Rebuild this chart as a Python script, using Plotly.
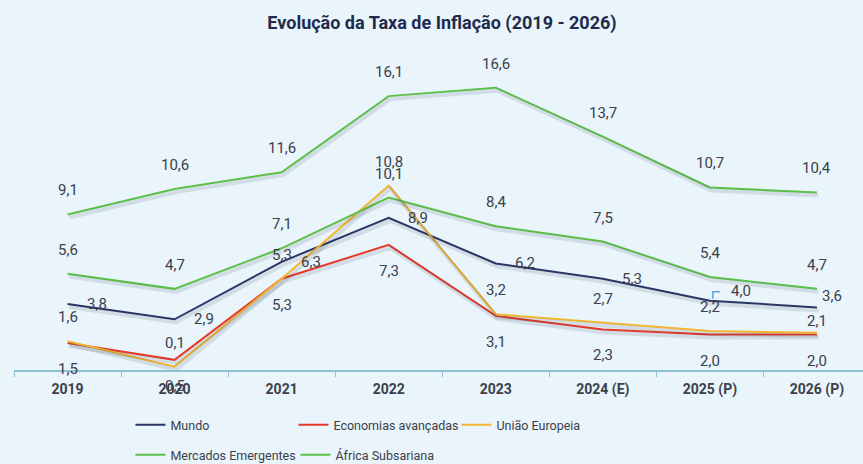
import plotly.graph_objects as go

categories = ["2019", "2020", "2021", "2022", "2023", "2024 (E)", "2025 (P)", "2026 (P)"]
mundo = [3.8, 2.9, 6.3, 8.9, 6.2, 5.3, 4.0, 3.6]
economias_avancadas = [1.5, 0.5, 5.3, 7.3, 3.1, 2.3, 2.0, 2.0]
uniao_europeia = [1.6, 0.1, 5.3, 10.8, 3.2, 2.7, 2.2, 2.1]
mercados_emergentes = [5.6, 4.7, 7.1, 10.1, 8.4, 7.5, 5.4, 4.7]
africa_subsariana = [9.1, 10.6, 11.6, 16.1, 16.6, 13.7, 10.7, 10.4]

BG = "#e9f4fb"
NAVY = "#2b3566"
RED = "#e53a2a"
YELLOW = "#f2b632"
GREEN = "#5cbf4a"
TXT = "#3b404b"
AXIS = "#8cc2d2"

W, H = 863, 464
ML, MR, MT, MB = 13.5, 0, 64, 94
YR = [-0.1, 18.0]
XR = [-0.5, 7.43]
plot_w = W - ML - MR
plot_h = H - MT - MB
px_per_y = plot_h / (YR[1] - YR[0])
px_per_x = plot_w / (XR[1] - XR[0])

series = [
    ("Mundo", mundo, NAVY, "legend"),
    ("Economias avançadas", economias_avancadas, RED, "legend"),
    ("União Europeia", uniao_europeia, YELLOW, "legend"),
    ("Mercados Emergentes", mercados_emergentes, GREEN, "legend2"),
    ("África Subsariana", africa_subsariana, GREEN, "legend2"),
]
idx = list(range(len(categories)))

fig = go.Figure()

# soft drop shadows (same data on a slightly offset overlay axis)
sx, sy = 1.5, 3.0
for name, vals, color, lg in series:
    fig.add_trace(go.Scatter(
        x=idx, y=vals, mode="lines",
        line=dict(color="rgba(40,50,70,0.12)", width=4),
        xaxis="x2", yaxis="y2", showlegend=False, hoverinfo="skip",
    ))

for name, vals, color, lg in series:
    fig.add_trace(go.Scatter(
        x=categories, y=vals, mode="lines", name=name,
        line=dict(color=color, width=2), legend=lg,
    ))

LABEL_FONT = dict(family="Roboto", size=15, color=TXT)
fmt = lambda v: f"{v:.1f}".replace(".", ",")
annotations = []
def add_labels(vals, xshift=0, yshift=0, xanchor="center", special=None):
    special = special or {}
    for i, v in zip(idx, vals):
        xs, ys = special.get(i, (xshift, yshift))
        annotations.append(dict(
            x=i, y=v, xref="x", yref="y", text=fmt(v), showarrow=False,
            xshift=xs, yshift=ys, xanchor=xanchor, yanchor="middle",
            font=LABEL_FONT,
        ))

add_labels(africa_subsariana, yshift=24)
add_labels(mercados_emergentes, yshift=24)
add_labels(uniao_europeia, yshift=24, special={7: (0, 12)})
add_labels(economias_avancadas, yshift=-26)
add_labels(mundo, xshift=17, xanchor="left", special={6: (19, 10), 7: (3, 11)})
shapes = [dict(
    type="path", xref="x", yref="y", xsizemode="pixel", ysizemode="pixel",
    xanchor=6, yanchor=mundo[6], path="M3,2 L3,9 L10,9",
    line=dict(color="#5aa8d8", width=1.5),
)]

fig.update_layout(
    width=W, height=H,
    margin=dict(l=ML, r=MR, t=MT, b=MB, pad=0, autoexpand=False),
    paper_bgcolor=BG, plot_bgcolor=BG,
    title=dict(
        text="<b>Evolução da Taxa de Inflação (2019 - 2026)</b>",
        font=dict(family="Roboto", size=18, color="#1f2b4d"),
        x=442 / W, xref="container", xanchor="center",
        y=1 - 23 / H, yref="container", yanchor="middle",
    ),
    xaxis=dict(
        type="category", range=XR, showgrid=False, zeroline=False,
        showline=True, linecolor=AXIS, linewidth=1.5,
        ticks="outside", tickson="boundaries", ticklen=5, tickcolor=AXIS,
        tickfont=dict(family="Roboto", size=14, color=TXT, weight="bold"),
        ticklabelstandoff=5, fixedrange=True,
    ),
    yaxis=dict(range=YR, visible=False, showgrid=False, zeroline=False),
    xaxis2=dict(range=[XR[0] - sx / px_per_x, XR[1] - sx / px_per_x],
                overlaying="x", visible=False, showgrid=False),
    yaxis2=dict(range=[YR[0] + sy / px_per_y, YR[1] + sy / px_per_y],
                overlaying="y", visible=False, showgrid=False),
    annotations=annotations,
    shapes=shapes,
    legend=dict(
        orientation="h", x=(130 - ML) / plot_w, xanchor="left",
        y=-(425 - (MT + plot_h)) / plot_h, yanchor="middle", yref="paper",
        entrywidth=118, entrywidthmode="pixels",
        font=dict(family="Roboto", size=12.5, color=TXT),
        bgcolor="rgba(0,0,0,0)", itemwidth=30,
    ),
    legend2=dict(
        orientation="h", x=(130 - ML) / plot_w, xanchor="left",
        y=-(455 - (MT + plot_h)) / plot_h, yanchor="middle", yref="paper",
        entrywidth=120, entrywidthmode="pixels",
        font=dict(family="Roboto", size=12.5, color=TXT),
        bgcolor="rgba(0,0,0,0)", itemwidth=30,
    ),
    showlegend=True,
)

fig.write_html("out.html", config={"displayModeBar": False},
               post_script="document.body.style.margin='0';")
